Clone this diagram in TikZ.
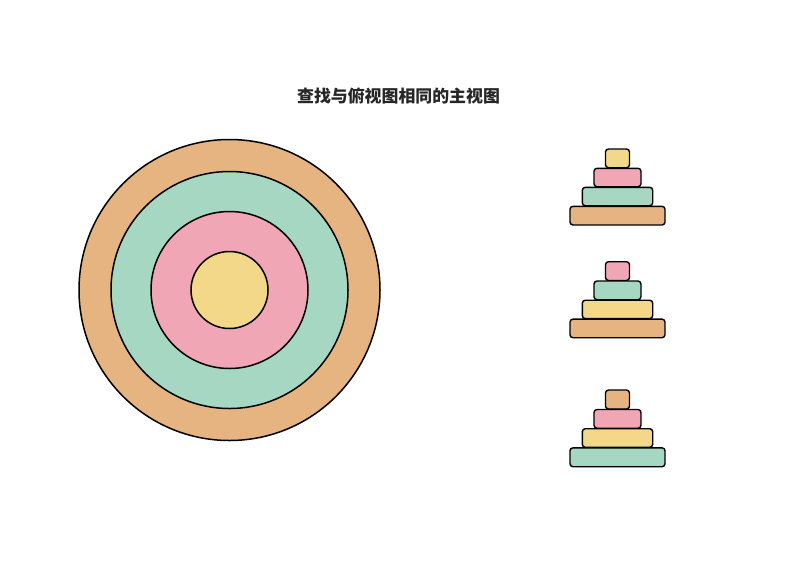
\documentclass[tikz,border=0pt]{standalone}
\usepackage{fontspec}
\newfontfamily\cjk{Noto Sans CJK SC}
\definecolor{ringorange}{RGB}{229,180,128}
\definecolor{ringgreen}{RGB}{166,215,194}
\definecolor{ringpink}{RGB}{240,166,181}
\definecolor{ringyellow}{RGB}{242,216,136}
\begin{document}
\begin{tikzpicture}[x=1pt,y=-1pt,
  ring/.style={draw=black,line width=1.5pt},
  layer/.style={draw=black,line width=1.4pt,rounded corners=3pt},
  title/.style={font=\cjk\bfseries\fontsize{16.9pt}{20pt}\selectfont,text=black!85}]
\useasboundingbox (0,0) rectangle (800,566);
\fill[white] (0,0) rectangle (800,566);
\node[title] (title) at (398.5,96) {查找与俯视图相同的主视图};
% top view: concentric circles
\coordinate (c) at (229.5,290);
\draw[ring,fill=ringorange] (c) circle[radius=150.5];
\draw[ring,fill=ringgreen] (c) circle[radius=118.5];
\draw[ring,fill=ringpink] (c) circle[radius=78.5];
\draw[ring,fill=ringyellow] (c) circle[radius=38.5];
% stack 1
\draw[layer,fill=ringyellow] (605.5,149) rectangle (629.5,167.7);
\draw[layer,fill=ringpink] (594,168.3) rectangle (641,186.7);
\draw[layer,fill=ringgreen] (582.3,187.3) rectangle (652.7,205.7);
\draw[layer,fill=ringorange] (570,206.3) rectangle (665,225);
% stack 2
\draw[layer,fill=ringpink] (605.5,261.7) rectangle (629.5,280.5);
\draw[layer,fill=ringgreen] (594,281) rectangle (641,299.7);
\draw[layer,fill=ringyellow] (582.3,300.2) rectangle (652.7,318.6);
\draw[layer,fill=ringorange] (570,319.1) rectangle (665,337.7);
% stack 3
\draw[layer,fill=ringorange] (605.5,390) rectangle (629.5,409);
\draw[layer,fill=ringpink] (594,409.5) rectangle (641,428.2);
\draw[layer,fill=ringyellow] (582.3,428.7) rectangle (652.7,447.3);
\draw[layer,fill=ringgreen] (570,447.8) rectangle (665,466.7);
\end{tikzpicture}
\end{document}
